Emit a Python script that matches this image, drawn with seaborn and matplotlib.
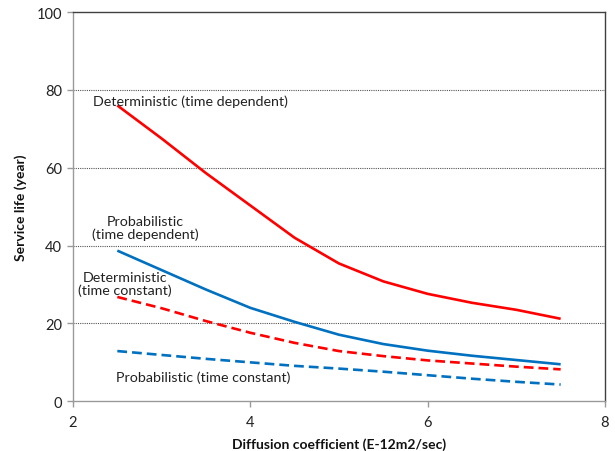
import matplotlib
matplotlib.use("Agg")
import matplotlib.pyplot as plt
import seaborn as sns
import pandas as pd

# Diffusion coefficient (E-12 m2/sec)
diffusion = [2.5, 3.0, 3.5, 4.0, 4.5, 5.0, 5.5, 6.0, 6.5, 7.0, 7.5]

# Service life (years) for each model
det_time_dependent = [76.0, 67.5, 58.6, 50.3, 42.0, 35.4, 30.8, 27.6, 25.3, 23.5, 21.2]
prob_time_dependent = [38.7, 33.7, 28.7, 24.0, 20.4, 17.1, 14.7, 13.0, 11.7, 10.6, 9.5]
det_time_constant = [26.8, 23.9, 20.6, 17.6, 15.0, 12.9, 11.6, 10.5, 9.7, 8.9, 8.2]
prob_time_constant = [12.9, 11.9, 10.9, 10.0, 9.1, 8.4, 7.6, 6.7, 5.8, 5.0, 4.3]

x_ticks = [2, 4, 6, 8]
y_ticks = [0, 20, 40, 60, 80, 100]

RED = "#FF0000"
BLUE = "#0070C0"

series = [
    ("Deterministic (time dependent)", det_time_dependent, RED, "-"),
    ("Probabilistic (time dependent)", prob_time_dependent, BLUE, "-"),
    ("Deterministic (time constant)", det_time_constant, RED, "--"),
    ("Probabilistic (time constant)", prob_time_constant, BLUE, "--"),
]

sns.set_theme(style="white")
plt.rcParams["font.family"] = ["Lato", "DejaVu Sans"]

fig = plt.figure(figsize=(6.15, 4.52), dpi=100)
ax = fig.add_axes([0.1187, 0.1100, 0.8650, 0.8612])

for name, values, color, ls in series:
    df = pd.DataFrame({"x": diffusion, "y": values})
    sns.lineplot(data=df, x="x", y="y", ax=ax, color=color,
                 linewidth=1.9, legend=False)
    ln = ax.lines[-1]
    ln.set_solid_capstyle("butt")
    if ls == "--":
        ln.set_dashes([3.7, 1.9])

ax.set_xlim(2, 8)
ax.set_ylim(0, 100)
ax.set_xticks(x_ticks)
ax.set_yticks(y_ticks)
ax.set_xticklabels([str(t) for t in x_ticks])
ax.set_yticklabels([str(t) for t in y_ticks])

for yv in [20, 40, 60, 80]:
    ax.axhline(yv, color="#555555", linestyle=(0, (1, 1)), linewidth=0.8, zorder=0)

ax.spines["left"].set_color("#9a9a9a")
ax.spines["bottom"].set_color("#9a9a9a")
ax.spines["top"].set_color("#404040")
ax.spines["right"].set_color("#404040")
for s in ax.spines.values():
    s.set_linewidth(1.0)

ax.tick_params(axis="both", which="major", direction="out", length=4,
               width=1.0, color="#9a9a9a", labelsize=10.5, labelcolor="#222222",
               pad=4)
ax.tick_params(axis="x", bottom=True, pad=6)
ax.tick_params(axis="y", left=True)

ax.set_xlabel("Diffusion coefficient (E-12m2/sec)", fontsize=10,
              fontweight="bold", color="#111111", labelpad=6)
ax.set_ylabel("Service life (year)", fontsize=10, fontweight="bold",
              color="#111111", labelpad=7)

label_kw = dict(fontsize=10.3, color="#222222", ha="center", va="center")
ax.text(3.32, 77.3, "Deterministic (time dependent)", **label_kw)
ax.text(2.81, 44.6, "Probabilistic\n(time dependent)", linespacing=1.1, **label_kw)
ax.text(2.59, 30.3, "Deterministic\n(time constant)", linespacing=1.1, **label_kw)
ax.text(3.47, 6.4, "Probabilistic (time constant)", **label_kw)

fig.savefig("out.png", dpi=100)
